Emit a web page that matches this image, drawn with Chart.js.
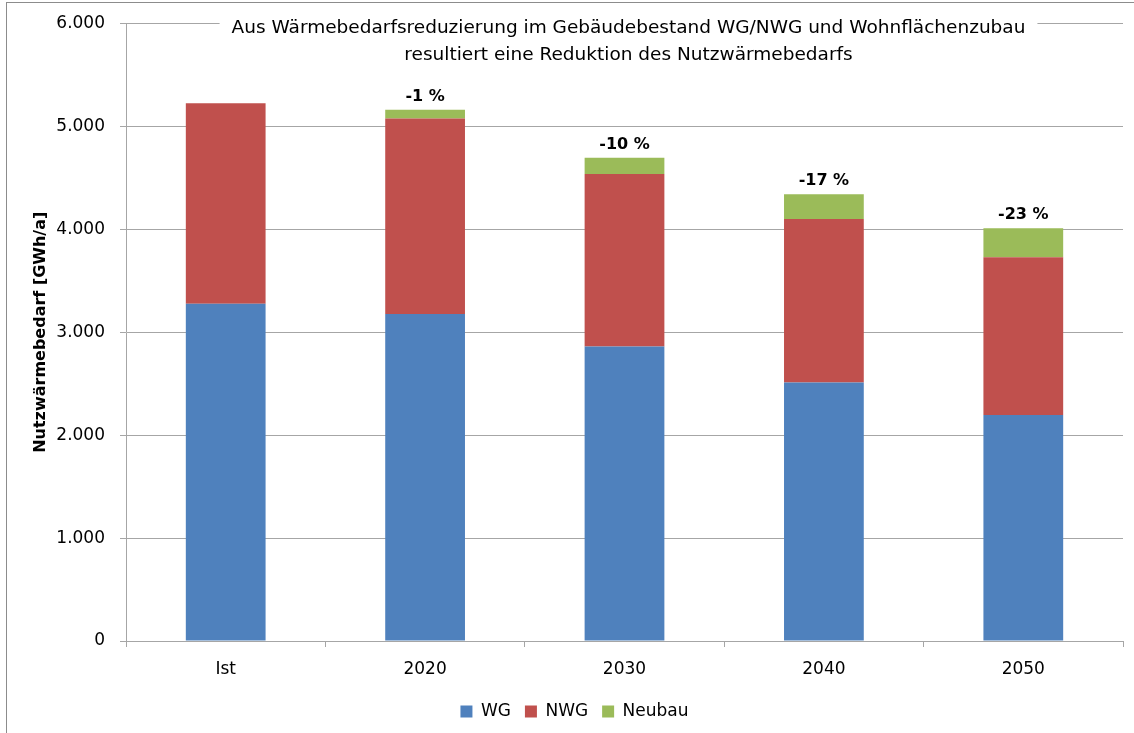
<!DOCTYPE html>
<html>
<head>
<meta charset="utf-8">
<script src="https://cdn.jsdelivr.net/npm/chart.js@4"></script>
<style>
  body { margin: 0; background: #fff; }
  #wrap { width: 1134px; height: 733px; }
</style>
</head>
<body>
<div id="wrap"><canvas id="waermeChart"></canvas></div>
<script>
// Daten
const categories = ['Ist', '2020', '2030', '2040', '2050'];
const wgValues = [3278, 3178, 2861, 2512, 2197];
const nwgValues = [1948, 1900, 1676, 1588, 1531];
const neubauValues = [0, 83, 159, 240, 282];
const seriesNames = ['WG', 'NWG', 'Neubau'];
const yMax = 6000;
const yStep = 1000;
const titleLines = [
  'Aus Wärmebedarfsreduzierung im Gebäudebestand WG/NWG und Wohnflächenzubau',
  'resultiert eine Reduktion des Nutzwärmebedarfs'
];
const yTitle = 'Nutzwärmebedarf [GWh/a]';

const FONT = '"DejaVu Sans", sans-serif';
const GRID = '#a6a6a6';

function formatDe(v) {
  return String(v).replace(/\B(?=(\d{3})+(?!\d))/g, '.');
}

// Rahmen + Hintergrund
const framePlugin = {
  id: 'frame',
  beforeDraw(chart) {
    const ctx = chart.ctx;
    ctx.save();
    ctx.fillStyle = '#fff';
    ctx.fillRect(0, 0, chart.width, chart.height);
    ctx.strokeStyle = '#8c8c8c';
    ctx.lineWidth = 1;
    ctx.strokeRect(6.5, 2.5, chart.width + 20, chart.height + 20);
    ctx.restore();
  }
};

// Legende etwas nach rechts/oben schieben
const legendShift = {
  id: 'legendShift',
  afterLayout(chart) {
    const lg = chart.legend;
    lg.left += 13; lg.right += 13;
    lg.top -= 3; lg.bottom -= 3;
  }
};

// Titel im Diagramm
const innerTitle = {
  id: 'innerTitle',
  afterDatasetsDraw(chart) {
    const ctx = chart.ctx;
    const area = chart.chartArea;
    const cx = (area.left + area.right) / 2 + 4;
    ctx.save();
    ctx.font = '18.5px ' + FONT;
    const w = Math.max(...titleLines.map(t => ctx.measureText(t).width));
    ctx.fillStyle = '#fff';
    ctx.fillRect(cx - w / 2 - 12, area.top - 6, w + 24, 14);
    ctx.fillStyle = '#000';
    ctx.textAlign = 'center';
    ctx.textBaseline = 'middle';
    titleLines.forEach((t, i) => ctx.fillText(t, cx, area.top + 5 + i * 27));
    ctx.restore();
  }
};

// Prozent-Beschriftung über den Säulen
const pctLabels = {
  id: 'pctLabels',
  afterDatasetsDraw(chart) {
    const ctx = chart.ctx;
    const meta = chart.getDatasetMeta(2);
    const totals = categories.map((c, i) => wgValues[i] + nwgValues[i] + neubauValues[i]);
    ctx.save();
    ctx.font = 'bold 16px ' + FONT;
    ctx.fillStyle = '#000';
    ctx.textAlign = 'center';
    ctx.textBaseline = 'middle';
    meta.data.forEach((bar, i) => {
      if (i === 0) return;
      const pct = Math.round((totals[i] / totals[0] - 1) * 100);
      ctx.fillText(pct + ' %', bar.x, bar.y - 13);
    });
    ctx.restore();
  }
};

new Chart(document.getElementById('waermeChart'), {
  type: 'bar',
  data: {
    labels: categories,
    datasets: [
      { label: seriesNames[0], data: wgValues, backgroundColor: '#4f81bd' },
      { label: seriesNames[1], data: nwgValues, backgroundColor: '#c0504d' },
      { label: seriesNames[2], data: neubauValues, backgroundColor: '#9bbb59' }
    ]
  },
  options: {
    responsive: true,
    maintainAspectRatio: false,
    animation: false,
    datasets: { bar: { categoryPercentage: 1, barPercentage: 0.4 } },
    layout: { padding: { left: 0, right: 11, top: 23, bottom: 0 } },
    plugins: {
      tooltip: { enabled: false },
      legend: {
        position: 'bottom',
        labels: {
          boxWidth: 12, boxHeight: 12, padding: 14,
          color: '#000', font: { family: FONT, size: 17 }
        }
      }
    },
    scales: {
      x: {
        stacked: true,
        grid: { drawOnChartArea: false, color: GRID, tickLength: 6, offset: true },
        border: { color: GRID },
        ticks: { color: '#000', padding: 14, font: { family: FONT, size: 17, lineHeight: 1 } }
      },
      y: {
        stacked: true,
        min: 0, max: yMax,
        grid: { color: GRID, tickLength: 6 },
        border: { color: GRID },
        ticks: {
          stepSize: yStep, color: '#000', padding: 15,
          font: { family: FONT, size: 17, lineHeight: 1 },
          callback: v => formatDe(v)
        },
        title: {
          display: true, text: yTitle, color: '#000',
          font: { family: FONT, size: 16, weight: 'bold' },
          padding: { top: 31, bottom: 0 }
        },
        afterFit(scale) { scale.width = 126; }
      }
    }
  },
  plugins: [framePlugin, legendShift, innerTitle, pctLabels]
});
</script>
</body>
</html>
